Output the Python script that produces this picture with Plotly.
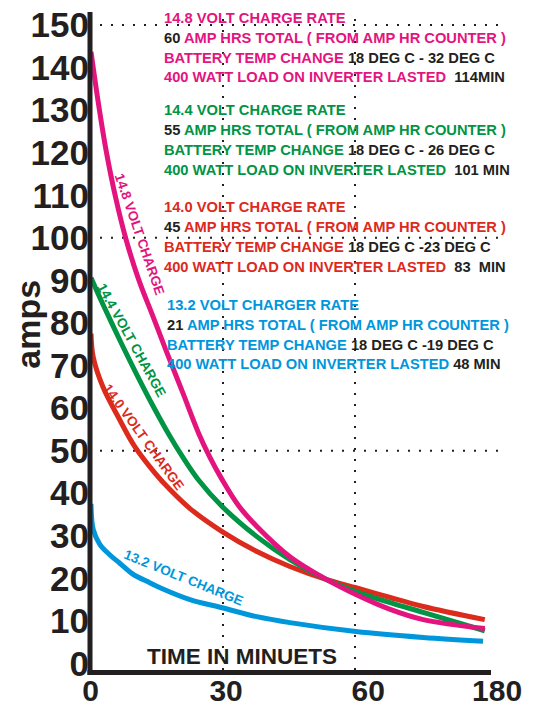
import plotly.graph_objects as go

# ---------------- data ----------------
# time axis positions: 0, 30, 60 evenly spaced, last segment compressed and labelled "180"
pink_x = [0, 1.8, 3.4, 5.7, 8.0, 10.9, 14.1, 17.0, 20.9, 24.5, 27.0, 29.8, 33.6, 37.7, 45.2, 53.6, 60.2, 68.0, 75.5, 89.5]
pink_y = [143.7, 130.8, 120.7, 109, 99.5, 90, 81.5, 73.7, 63.5, 54, 48.5, 43.2, 37.0, 32.2, 25.1, 19.7, 16.2, 12.7, 10.3, 8.2]

green_x = [0, 2.7, 6.4, 10.2, 14.1, 17.7, 20.9, 24.3, 29.8, 37.7, 45.2, 53.6, 60.2, 68.0, 75.5, 89.5]
green_y = [90.6, 84.4, 76.3, 68.3, 60.5, 53.8, 48.4, 43.3, 36.9, 29.8, 24.4, 19.7, 16.9, 14.3, 12.0, 7.7]

red_x = [0, 0.5, 2.7, 6.4, 9.8, 14.5, 18.0, 22.5, 29.8, 37.7, 45.2, 53.6, 60.2, 68.0, 75.5, 89.5]
red_y = [77.5, 72, 65, 57.5, 51.2, 44.8, 40.8, 36.4, 31, 26.3, 22.8, 19.7, 17.8, 15.5, 13.4, 10.3]

blue_x = [0, 0.5, 2.0, 4.3, 6.6, 9.5, 12.7, 15.7, 22.5, 29.8, 37.7, 45.2, 60.2, 75.5, 89.1]
blue_y = [37.5, 31.5, 28, 25.5, 23.5, 21, 19.3, 17.8, 15, 13.1, 11, 9.6, 7.5, 6.1, 5.2]

series_names = ["14.8 VOLT CHARGE", "14.4 VOLT CHARGE", "14.0 VOLT CHARGE", "13.2 VOLT CHARGE"]

y_tick_values = [0, 10, 20, 30, 40, 50, 60, 70, 80, 90, 100, 110, 120, 130, 140, 150]
x_tick_labels = ["0", "30", "60", "180"]
guide_y = [50, 100, 150]
guide_x = [30, 60]

# text blocks: each line is a list of (text, black?) segments
block_148 = [
    [("14.8 VOLT CHARGE RATE", False)],
    [("60", True), (" AMP HRS TOTAL ( FROM AMP HR COUNTER )", False)],
    [("BATTERY TEMP CHANGE", False), (" 18 DEG C - 32 DEG C", True)],
    [("400 WATT LOAD ON INVERTER LASTED", False), ("\u00a0 114MIN", True)],
]
block_144 = [
    [("14.4 VOLT CHARGE RATE", False)],
    [("55", True), (" AMP HRS TOTAL ( FROM AMP HR COUNTER )", False)],
    [("BATTERY TEMP CHANGE", False), (" 18 DEG C - 26 DEG C", True)],
    [("400 WATT LOAD ON INVERTER LASTED", False), ("\u00a0 101 MIN", True)],
]
block_140 = [
    [("14.0 VOLT CHARGE RATE", False)],
    [("45", True), (" AMP HRS TOTAL ( FROM AMP HR COUNTER )", False)],
    [("BATTERY TEMP CHANGE", False), (" 18 DEG C -23 DEG C", True)],
    [("400 WATT LOAD ON INVERTER LASTED", False), ("\u00a0 83\u00a0 MIN", True)],
]
block_132 = [
    [("13.2 VOLT CHARGER RATE", False)],
    [("21", True), (" AMP HRS TOTAL ( FROM AMP HR COUNTER )", False)],
    [("BATTERY TEMP CHANGE", False), (" 18 DEG C -19 DEG C", True)],
    [("400 WATT LOAD ON INVERTER LASTED", False), (" 48 MIN", True)],
]

# ---------------- style ----------------
PINK = "#E4147F"
GREEN = "#009444"
RED = "#DC2A1C"
BLUE = "#0096DC"
BLACK = "#231F20"
FONT = "Liberation Sans, Arial, sans-serif"

W, H = 533, 704
L, R, T, B = 90, 503, 12, 670.5
X0_PX, X_SCALE = 91, 4.4          # px of time 0, px per unit
Y0_PX, Y_SCALE = 664, 4.26        # px of 0 amps, px per amp
x_range = [(L - X0_PX) / X_SCALE, (R - X0_PX) / X_SCALE]
y_range = [(Y0_PX - B) / Y_SCALE, (Y0_PX - T) / Y_SCALE]


def paper(px, py):
    return (px - L) / (R - L), (B - py) / (B - T)


fig = go.Figure()
for xs, ys, col, name in [
    (red_x, red_y, RED, series_names[2]),
    (green_x, green_y, GREEN, series_names[1]),
    (pink_x, pink_y, PINK, series_names[0]),
    (blue_x, blue_y, BLUE, series_names[3]),
]:
    fig.add_trace(go.Scatter(x=xs, y=ys, mode="lines", name=name,
                             line=dict(color=col, width=5, shape="spline", smoothing=1.0),
                             showlegend=False, hoverinfo="skip"))

shapes = []
dot = dict(color=BLACK, width=2, dash="2px,9px")
for gy in guide_y:
    shapes.append(dict(type="line", xref="x", yref="y", x0=(100 - X0_PX) / X_SCALE,
                       x1=(499 - X0_PX) / X_SCALE, y0=gy, y1=gy, line=dot, layer="below"))
for gx in guide_x:
    shapes.append(dict(type="line", xref="x", yref="y", x0=gx, x1=gx, y0=-1.5, y1=152,
                       line=dot, layer="below"))
# axis lines (x axis ends before the "180" label)
xl0, yl = paper(87.5, 673)
shapes.append(dict(type="line", xref="paper", yref="paper", x0=xl0, x1=(491 - L) / (R - L),
                   y0=yl, y1=yl, line=dict(color=BLACK, width=5)))
ya0 = paper(90, 675.5)[1]
shapes.append(dict(type="line", xref="paper", yref="paper", x0=0, x1=0,
                   y0=ya0, y1=1, line=dict(color=BLACK, width=5)))

annotations = []


def add_text(px, py, text, size, color=BLACK, angle=0, xanchor="center"):
    ax, ay = paper(px, py)
    annotations.append(dict(xref="paper", yref="paper", x=ax, y=ay, text=text, showarrow=False,
                            xanchor=xanchor, yanchor="middle", textangle=angle,
                            font=dict(family=FONT, size=size, color=color, weight="bold")))


def block(lines, color, px, pys):
    for segs, py in zip(lines, pys):
        txt = "".join("<span style='color:%s'>%s</span>" % (BLACK if blk else color, s)
                      for s, blk in segs)
        add_text(px, py, txt, 14.7, color=color, xanchor="left")


block(block_148, PINK, 162, [18, 38, 58, 77])
block(block_144, GREEN, 162, [110, 130, 150, 170])
block(block_140, RED, 162, [207, 227, 247, 267])
block(block_132, BLUE, 165, [305, 325, 345, 364])

# curve labels
add_text(139, 234, series_names[0], 13.5, PINK, angle=71)
add_text(131, 340, series_names[1], 13.5, GREEN, angle=61)
add_text(143, 437, series_names[2], 13.5, RED, angle=54)
add_text(183, 578, series_names[3], 13.5, BLUE, angle=22)

# axis titles
add_text(28, 324, "amps", 34, BLACK, angle=-90)
add_text(242, 657, "TIME IN MINUETS", 22.5, BLACK)

fig.update_layout(
    template="none",
    width=W, height=H,
    margin=dict(l=L, r=W - R, t=T, b=H - B, pad=0, autoexpand=False),
    paper_bgcolor="white", plot_bgcolor="white",
    shapes=shapes, annotations=annotations,
    xaxis=dict(range=x_range, showgrid=False, zeroline=False, showline=False, automargin=False,
               tickmode="array", tickvals=[-0.1, 30.7, 63, 92.3], ticktext=x_tick_labels,
               ticks="", tickfont=dict(family=FONT, size=30, color=BLACK, weight="bold")),
    yaxis=dict(range=y_range, showgrid=False, zeroline=False, showline=False, automargin=False,
               tickmode="array", tickvals=y_tick_values,
               ticks="", tickfont=dict(family=FONT, size=35, color=BLACK, weight="bold")),
)

fig.write_html("out.html", config={"displayModeBar": False, "staticPlot": True},
               post_script="document.body.style.margin='0';document.body.style.overflow='hidden';")
